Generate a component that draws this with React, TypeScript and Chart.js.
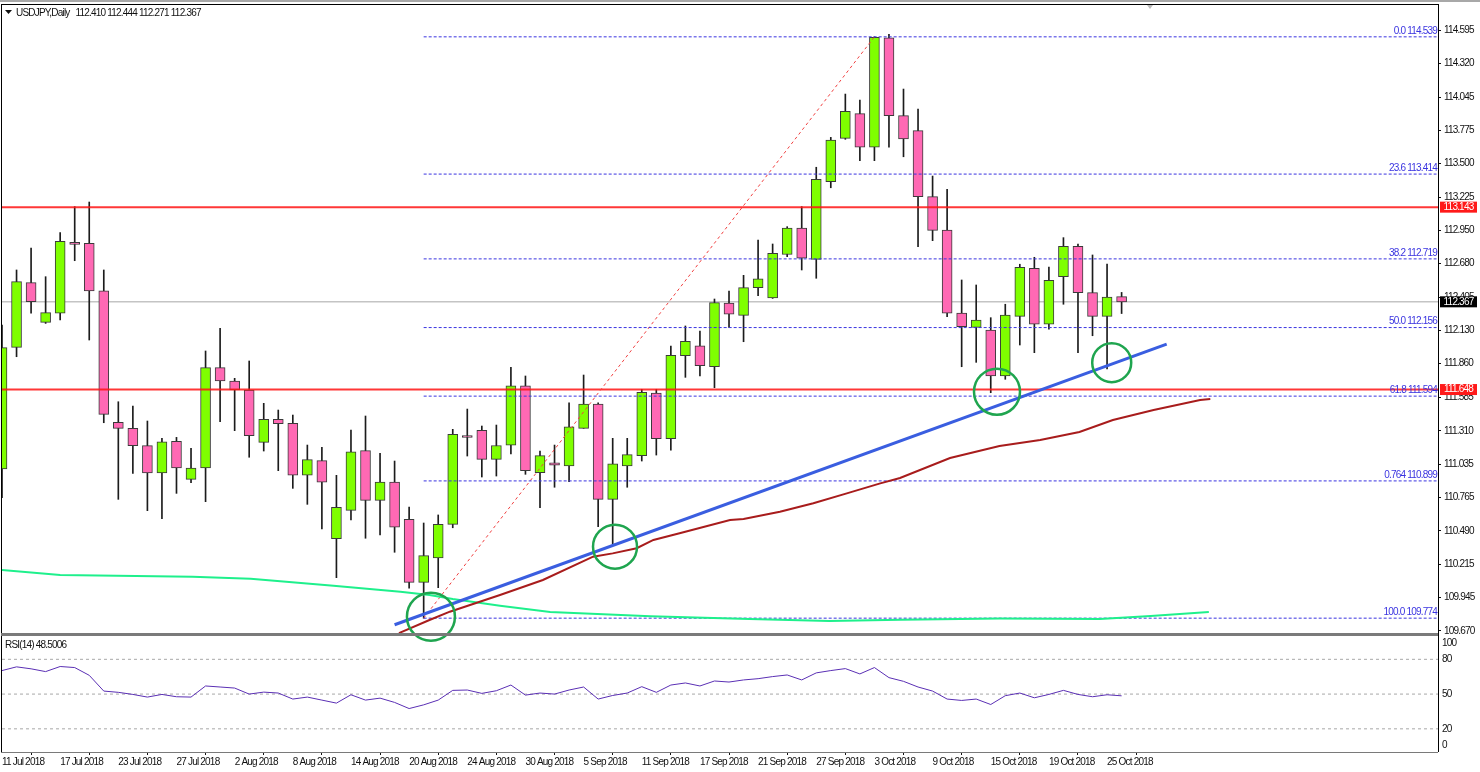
import React, { useEffect, useRef } from 'react';
import { Chart, ChartConfiguration, Plugin, registerables } from 'chart.js';

Chart.register(...registerables);

const FONT = '"Liberation Sans", sans-serif';
const FONT_SIZE = 10;
const TEXT_SPACING = '-0.8px';

// Daily candles, one entry per trading day
const opens = [110.997, 111.994, 112.524, 112.199, 112.273, 112.855, 112.847, 112.458, 111.379, 111.33, 111.188, 110.964, 111.224, 110.912, 111.005, 111.827, 111.718, 111.644, 111.215, 111.404, 111.371, 110.947, 111.065, 110.425, 110.658, 111.147, 110.74, 110.89, 110.584, 110.068, 110.267, 110.543, 111.263, 111.314, 111.075, 111.191, 111.679, 110.966, 111.048, 111.021, 111.33, 111.529, 110.748, 111.021, 111.106, 111.62, 111.245, 111.925, 112.007, 111.835, 112.357, 112.256, 112.483, 112.398, 112.755, 112.972, 112.715, 113.352, 113.707, 113.909, 113.634, 114.53, 113.893, 113.77, 113.229, 112.956, 112.275, 112.158, 112.136, 111.759, 112.248, 112.642, 112.183, 112.573, 112.822, 112.442, 112.248, 112.41];
const highs = [112.177, 112.628, 112.808, 112.573, 112.934, 113.147, 113.185, 112.628, 111.548, 111.513, 111.39, 111.248, 111.256, 111.166, 111.964, 112.15, 111.74, 111.882, 111.535, 111.48, 111.439, 111.193, 111.175, 110.945, 111.316, 111.431, 111.125, 111.062, 110.685, 110.554, 110.62, 111.322, 111.488, 111.349, 111.357, 111.83, 111.759, 111.144, 111.193, 111.54, 111.767, 111.54, 111.248, 111.248, 111.65, 111.65, 112.005, 112.169, 112.128, 112.39, 112.456, 112.584, 112.874, 112.841, 112.983, 113.147, 113.47, 113.715, 114.07, 114.021, 114.539, 114.56, 114.111, 113.947, 113.398, 113.289, 112.546, 112.505, 112.237, 112.347, 112.675, 112.732, 112.652, 112.893, 112.841, 112.751, 112.677, 112.444];
const lows = [110.761, 111.917, 112.275, 112.19, 112.218, 112.704, 112.054, 111.376, 110.748, 110.961, 110.655, 110.589, 110.797, 110.884, 110.729, 111.384, 111.311, 111.093, 111.144, 110.983, 110.838, 110.707, 110.505, 110.106, 110.579, 110.429, 110.456, 110.314, 110.019, 109.774, 110.024, 110.515, 111.103, 110.931, 110.939, 111.12, 110.953, 110.679, 110.847, 110.893, 111.33, 110.524, 110.382, 110.847, 111.062, 111.111, 111.152, 111.748, 111.759, 111.663, 112.158, 112.04, 112.417, 112.395, 112.737, 112.628, 112.56, 113.302, 113.699, 113.524, 113.524, 113.634, 113.556, 112.819, 112.868, 112.245, 111.835, 111.871, 111.622, 111.732, 112.013, 111.95, 112.142, 112.347, 111.95, 112.089, 111.816, 112.271];
const closes = [111.991, 112.532, 112.368, 112.278, 112.863, 112.838, 112.456, 111.445, 111.33, 111.188, 110.964, 111.22, 111.005, 111.005, 111.827, 111.718, 111.644, 111.27, 111.404, 111.368, 110.947, 111.073, 110.888, 110.683, 111.138, 110.74, 110.89, 110.519, 110.068, 110.286, 110.543, 111.281, 111.255, 111.075, 111.189, 111.679, 110.983, 111.106, 111.029, 111.343, 111.529, 110.748, 111.04, 111.114, 111.625, 111.245, 111.929, 112.043, 111.843, 112.36, 112.265, 112.483, 112.556, 112.765, 112.972, 112.724, 113.371, 113.693, 113.929, 113.634, 114.535, 113.893, 113.702, 113.229, 112.953, 112.273, 112.163, 112.218, 111.759, 112.259, 112.65, 112.183, 112.543, 112.822, 112.442, 112.248, 112.406, 112.367];

const rsiValues = [70.3, 73.5, 71.8, 69.4, 73.8, 72.9, 66.2, 52.6, 51.5, 49.7, 47.4, 49.7, 47.7, 47.4, 57, 56.1, 55.2, 50, 51.7, 50.9, 45.7, 47.4, 44.8, 42.2, 49.4, 44.8, 46.5, 42.8, 37.5, 40.7, 44.8, 53.2, 53.5, 50.6, 52.9, 57.8, 49.1, 50.9, 50, 53.5, 56.1, 45.7, 48.8, 50.9, 56.4, 51.5, 57.8, 59.6, 57, 61.3, 60.4, 62.2, 63.3, 65.1, 66.5, 62.2, 68.3, 70.3, 72, 67.4, 72.9, 64.2, 61, 56.1, 52.6, 45.7, 44.5, 45.7, 41, 48.6, 50.9, 46.8, 49.7, 53.2, 49.7, 47.7, 49.4, 48.5];

// Moving averages, read at the bends of each curve (bar position, price)
const maSlowIndex = [0, 4, 13.1, 17.1, 22.8, 27.4, 29.4, 31, 34.25, 37.7, 44.6, 51.4, 56.9, 61.8, 68.6, 75.5, 79, 83];
const maSlowPrice = [110.168, 110.127, 110.113, 110.097, 110.04, 109.991, 109.964, 109.931, 109.876, 109.825, 109.79, 109.767, 109.75, 109.76, 109.771, 109.767, 109.792, 109.825];
const maFastIndex = [27.3, 29.4, 30.8, 34.25, 37.2, 40.65, 42, 43.65, 44.8, 46.6, 50.07, 51, 53.5, 55.8, 58.1, 60.4, 61.76, 65.2, 68.6, 71.4, 74.1, 76.4, 79.2, 82.4, 83.1];
const maFastPrice = [109.652, 109.759, 109.827, 109.964, 110.087, 110.278, 110.305, 110.347, 110.415, 110.47, 110.579, 110.587, 110.647, 110.716, 110.797, 110.879, 110.923, 111.087, 111.185, 111.234, 111.3, 111.398, 111.48, 111.562, 111.57];

const dateLabels = ['11 Jul 2018', '17 Jul 2018', '23 Jul 2018', '27 Jul 2018', '2 Aug 2018', '8 Aug 2018', '14 Aug 2018', '20 Aug 2018', '24 Aug 2018', '30 Aug 2018', '5 Sep 2018', '11 Sep 2018', '17 Sep 2018', '21 Sep 2018', '27 Sep 2018', '3 Oct 2018', '9 Oct 2018', '15 Oct 2018', '19 Oct 2018', '25 Oct 2018'];
const priceTicks = [114.595, 114.32, 114.045, 113.775, 113.5, 113.225, 112.95, 112.68, 112.405, 112.13, 111.86, 111.585, 111.31, 111.035, 110.765, 110.49, 110.215, 109.945, 109.67];

const fibLevels = [114.539, 113.414, 112.719, 112.156, 111.594, 110.899, 109.774];
const fibLabels = ['0.0 114.539', '23.6 113.414', '38.2 112.719', '50.0 112.156', '61.8 111.594', '0.764 110.899', '100.0 109.774'];
const fibDiagIndex = [29, 60];
const fibDiagPrice = [109.774, 114.539];

const supportLevels = [113.143, 111.648];
const lastPrice = 112.367;

const trendIndex = [27, 80.1];
const trendPrice = [109.72, 112.02];

const circleIndex = [29.5, 42.16, 68.43, 76.32];
const circlePrice = [109.786, 110.36, 111.63, 111.868];
const circleRadius = [24, 22, 23, 19.5];

const rsiLevels = [80, 50, 20];
const rsiAxisLabels = ['100', '80', '50', '20', '0'];
const rsiAxisValues = [94, 80, 50, 20, 6];

const TITLE = 'USDJPY,Daily   112.410 112.444 112.271 112.367';
const RSI_TITLE = 'RSI(14) 48.5006';

// x scale runs in bar positions, the plot is wider than the data
const X_MAX = 98.76;
const FIB_START = 29;
const FIB_END = 98.66;
const TICK_STEP = 4;

const GREEN = '#7fff00';
const PINK = '#ff69b4';
const FIB_BLUE = '#3a34e0';

const line = (
  xs: number[],
  ys: number[],
  yAxisID: string,
  style: Record<string, unknown>,
) => ({
  type: 'line' as const,
  data: xs.map((x, i) => ({ x, y: ys[i] })),
  yAxisID,
  pointRadius: 0,
  tension: 0,
  ...style,
});

// Text the axes can't place: chart titles, fib captions, price badges, frame
const overlayPlugin: Plugin = {
  id: 'overlay',
  beforeDraw(chart) {
    // the terminal font is much narrower than anything installed
    (chart.ctx as any).letterSpacing = TEXT_SPACING;
  },
  afterDraw(chart) {
    const { ctx, chartArea, scales } = chart;
    const { left, right, top, bottom } = chartArea;
    const priceScale = scales.y;
    const rsiScale = scales.rsi;
    ctx.save();

    // window edge and pane frame
    ctx.fillStyle = '#a8a8a8';
    ctx.fillRect(0, 0, chart.width, 2);
    ctx.fillStyle = '#000';
    ctx.fillRect(left - 1, top - 1, right - left + 1, 1);
    ctx.fillRect(left - 1, top - 1, 1, bottom - top + 1);
    ctx.fillRect(right, top - 1, 1, bottom - top + 1);
    ctx.fillStyle = '#7a7a7a';
    ctx.fillRect(left - 1, priceScale.bottom - 2, right - left + 1, 3);
    ctx.fillRect(left - 1, bottom, right - left + 1, 1);

    // the small markers
    ctx.fillStyle = '#111';
    ctx.beginPath();
    ctx.moveTo(5, 10);
    ctx.lineTo(12, 10);
    ctx.lineTo(8.5, 14);
    ctx.fill();
    ctx.fillStyle = '#bbb';
    ctx.beginPath();
    ctx.moveTo(1147, 5);
    ctx.lineTo(1153, 5);
    ctx.lineTo(1150, 9);
    ctx.fill();

    ctx.font = `${FONT_SIZE}px ${FONT}`;
    ctx.textBaseline = 'middle';
    ctx.fillStyle = '#111';
    ctx.textAlign = 'left';
    ctx.fillText(TITLE, 16, 13);
    ctx.fillText(RSI_TITLE, 5, 645);

    rsiAxisLabels.forEach((label, i) => {
      ctx.fillText(label, right + 4, rsiScale.getPixelForValue(rsiAxisValues[i]));
    });

    ctx.fillStyle = FIB_BLUE;
    ctx.textAlign = 'right';
    fibLabels.forEach((label, i) => {
      ctx.fillText(label, right - 1, priceScale.getPixelForValue(fibLevels[i]) - 6);
    });

    // badges on the price axis
    const badge = (value: number, bg: string) => {
      const y = priceScale.getPixelForValue(value);
      ctx.fillStyle = bg;
      ctx.fillRect(right + 2, y - 5.5, 37, 11);
      ctx.fillStyle = '#fff';
      ctx.textAlign = 'center';
      ctx.fillText(value.toFixed(3), right + 20.5, y);
    };
    supportLevels.forEach((v) => badge(v, '#ff1a1a'));
    badge(lastPrice, '#000');
    ctx.restore();
  },
};

const App: React.FC = () => {
  const canvasRef = useRef<HTMLCanvasElement>(null);

  useEffect(() => {
    if (!canvasRef.current) return;
    document.body.style.margin = '0';

    const bars = opens.map((_, i) => i);
    const isUp = (i: number) => closes[i] > opens[i];

    const config: ChartConfiguration = {
      type: 'bar',
      data: {
        datasets: [
          // wicks under the bodies
          {
            type: 'bar',
            data: bars.map((i) => ({ x: i, y: [lows[i], highs[i]] })) as any,
            yAxisID: 'y',
            grouped: false,
            barThickness: 1,
            backgroundColor: '#1c1c1c',
            borderWidth: 0,
            order: 20,
          },
          {
            type: 'bar',
            data: bars.map((i) => ({ x: i, y: [opens[i], closes[i]] })) as any,
            yAxisID: 'y',
            grouped: false,
            barThickness: 10,
            minBarLength: 2,
            backgroundColor: bars.map((i) => (isUp(i) ? GREEN : PINK)),
            borderColor: '#3a3a3a',
            borderWidth: 1,
            borderSkipped: false,
            order: 10,
          },
          line([0, X_MAX], [lastPrice, lastPrice], 'y', {
            borderColor: '#c4c4c4',
            borderWidth: 1.5,
            order: 30,
          }),
          ...supportLevels.map((level) =>
            line([0, X_MAX], [level, level], 'y', {
              borderColor: 'rgba(255, 20, 20, 0.85)',
              borderWidth: 2,
              order: 6,
            }),
          ),
          ...fibLevels.map((level) =>
            line([FIB_START, FIB_END], [level, level], 'y', {
              borderColor: FIB_BLUE,
              borderWidth: 1,
              borderDash: [3, 2],
              order: 5,
            }),
          ),
          line(fibDiagIndex, fibDiagPrice, 'y', {
            borderColor: '#f04040',
            borderWidth: 1,
            borderDash: [3, 3],
            order: 5,
          }),
          line(maSlowIndex, maSlowPrice, 'y', {
            borderColor: '#1ef08c',
            borderWidth: 2,
            order: 4,
          }),
          line(maFastIndex, maFastPrice, 'y', {
            borderColor: '#a81c1c',
            borderWidth: 2,
            order: 3,
          }),
          line(trendIndex, trendPrice, 'y', {
            borderColor: '#3a5ee0',
            borderWidth: 3,
            order: 2,
          }),
          {
            type: 'scatter',
            data: circleIndex.map((x, i) => ({ x, y: circlePrice[i] })),
            yAxisID: 'y',
            clip: false,
            pointStyle: 'circle',
            pointRadius: circleRadius,
            pointBorderColor: '#1fa54f',
            pointBackgroundColor: 'transparent',
            pointBorderWidth: 2.5,
            order: 1,
          },
          ...rsiLevels.map((level) =>
            line([0, X_MAX], [level, level], 'rsi', {
              borderColor: '#a8a8a8',
              borderWidth: 1,
              borderDash: [3, 3],
              order: 8,
            }),
          ),
          line(bars, rsiValues, 'rsi', {
            borderColor: '#5a2fb4',
            borderWidth: 1,
            order: 7,
          }),
        ] as any,
      },
      options: {
        responsive: false,
        animation: false,
        layout: { autoPadding: false, padding: { left: 2, top: 5, right: 0, bottom: 0 } },
        plugins: {
          legend: { display: false },
          tooltip: { enabled: false },
        },
        scales: {
          x: {
            type: 'linear',
            offset: false,
            min: 0,
            max: X_MAX,
            grid: { drawOnChartArea: false, drawTicks: true, tickLength: 3, color: '#111' },
            border: { display: false },
            afterBuildTicks: (scale) => {
              scale.ticks = dateLabels.map((_, i) => ({ value: i * TICK_STEP }));
            },
            afterFit: (scale) => {
              scale.height = 20;
              scale.paddingLeft = 0;
              scale.paddingRight = 0;
            },
            ticks: {
              autoSkip: false,
              maxRotation: 0,
              align: 'start',
              padding: 1,
              color: '#111',
              font: { family: FONT, size: FONT_SIZE },
              callback: (value) => dateLabels[Number(value) / TICK_STEP],
            },
          },
          y: {
            type: 'linear',
            position: 'right',
            stack: 'panes',
            stackWeight: 630,
            min: 109.636,
            max: 114.8,
            grid: { drawOnChartArea: false, drawTicks: true, tickLength: 3, color: '#111' },
            border: { display: false },
            afterBuildTicks: (scale) => {
              scale.ticks = priceTicks.map((value) => ({ value }));
            },
            // the top and bottom labels must not push the plot inwards
            afterFit: (scale) => {
              scale.width = 42;
              scale.paddingTop = 0;
              scale.paddingBottom = 0;
            },
            ticks: {
              autoSkip: false,
              crossAlign: 'near',
              padding: 3,
              color: '#111',
              font: { family: FONT, size: FONT_SIZE },
              callback: (value) => Number(value).toFixed(3),
            },
          },
          rsi: {
            type: 'linear',
            position: 'right',
            stack: 'panes',
            stackWeight: 117,
            min: 0,
            max: 101,
            grid: { display: false },
            border: { display: false },
            afterFit: (scale) => {
              scale.width = 42;
              scale.paddingTop = 0;
              scale.paddingBottom = 0;
            },
            ticks: { display: false },
          },
        },
      },
      plugins: [overlayPlugin],
    };

    const chart = new Chart(canvasRef.current, config);
    return () => chart.destroy();
  }, []);

  return (
    <div style={{ width: 1480, height: 772, background: '#fff' }}>
      <canvas ref={canvasRef} width={1480} height={772} style={{ display: 'block' }} />
    </div>
  );
};

export default App;
